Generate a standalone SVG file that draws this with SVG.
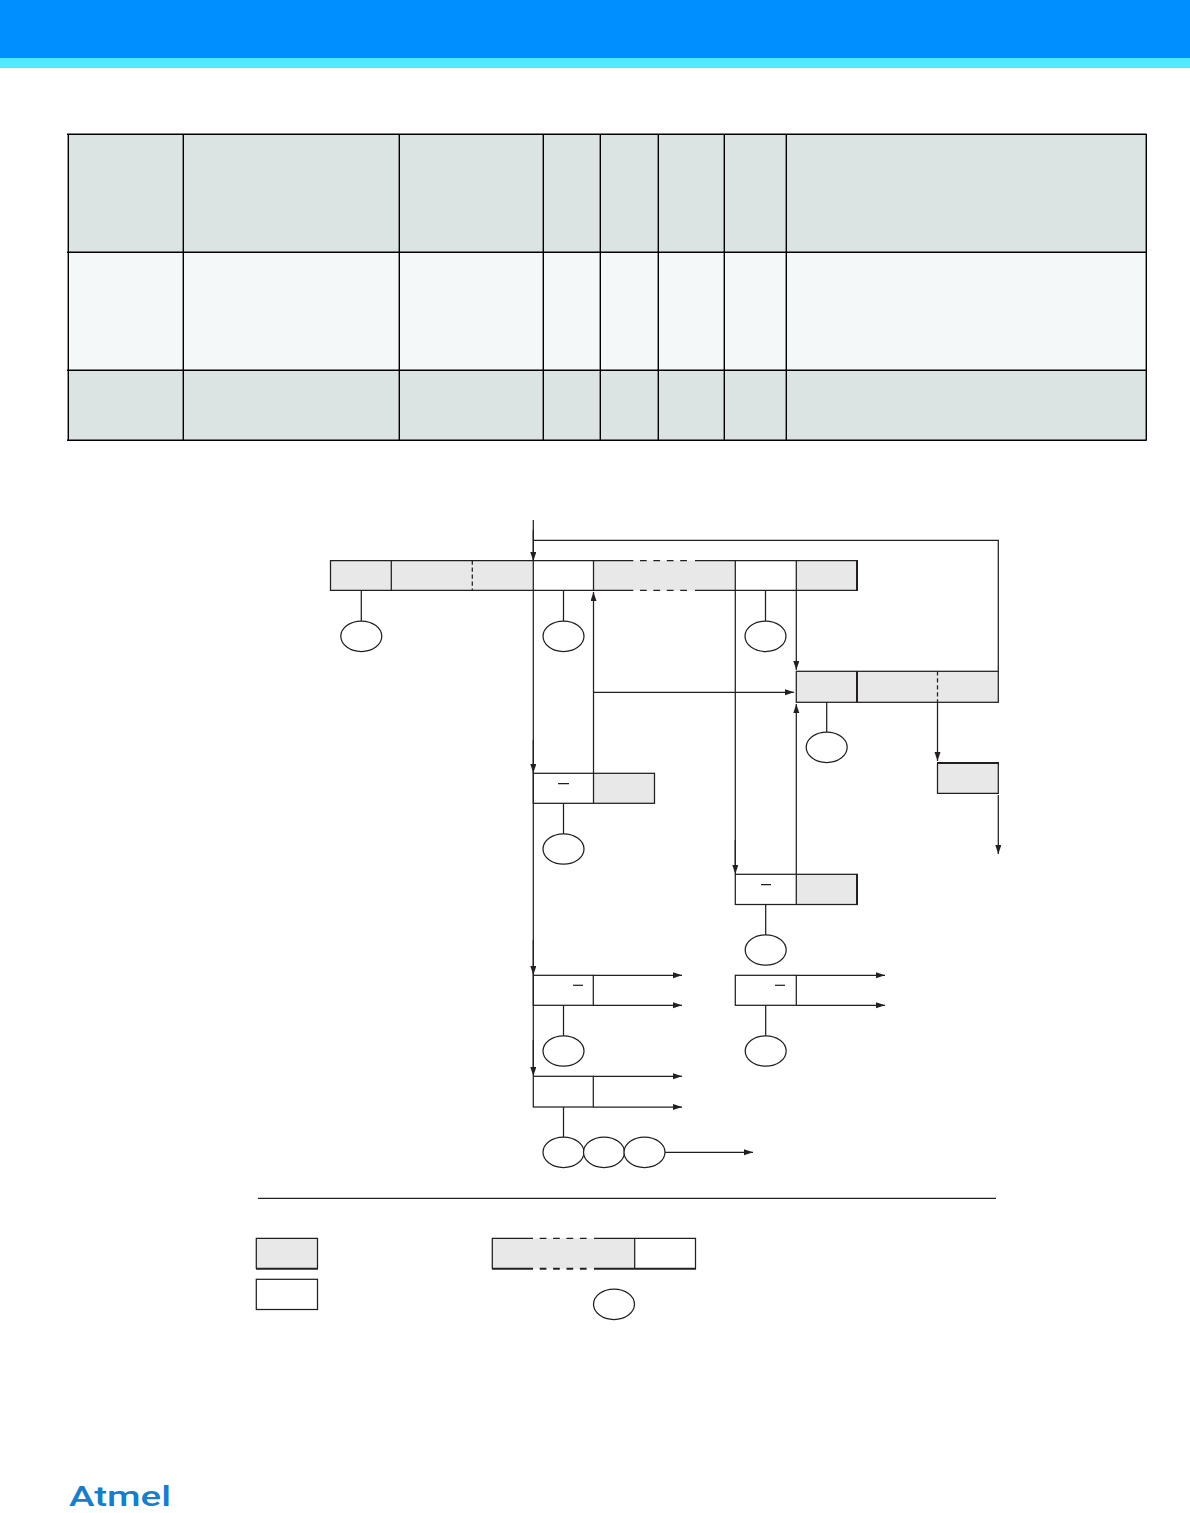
<svg xmlns="http://www.w3.org/2000/svg" width="1190" height="1513" viewBox="0 0 1190 1513">
<style>
.tl{stroke:#000;stroke-width:1.4;fill:none}
.g{fill:#e8e8e8;stroke:none}
.w{fill:#fff;stroke:none}
.s{stroke:#231f20;stroke-width:1.25;fill:none}
.t{stroke:#231f20;stroke-width:2;fill:none}
.d{stroke:#231f20;stroke-width:1.25;fill:none;stroke-dasharray:4.3 2.7}
.h{stroke:#231f20;stroke-width:1.25;fill:none;stroke-dasharray:6.7 6.7}
.ht{stroke:#231f20;stroke-width:2;fill:none;stroke-dasharray:6.7 6.7}
.e{fill:#fff;stroke:#231f20;stroke-width:1.25}
.a{stroke:#231f20;stroke-width:1.25;fill:none;marker-end:url(#arrow)}
</style>
<defs>
<marker id="arrow" markerUnits="userSpaceOnUse" markerWidth="10" markerHeight="7" refX="9" refY="3" orient="auto"><path d="M0 0L9 3L0 6z" fill="#231f20"/></marker>
</defs>
<rect width="1190" height="1513" fill="#fff"/>
<g id="header">
<rect x="0" y="0" width="1190" height="58" fill="#008fff"/>
<rect x="0" y="58" width="1190" height="10" fill="#50e9ff"/>
</g>
<g id="table">
<rect x="68" y="134" width="1078" height="118" fill="#dbe4e3"/>
<rect x="68" y="252" width="1078" height="118" fill="#f4f8f9"/>
<rect x="68" y="370" width="1078" height="70" fill="#dbe4e3"/>
<path class="tl" d="M67 134.3H1146.5M67 252.2H1146.5M67 370.3H1146.5M67 440.2H1146.5"/>
<path class="tl" d="M68.3 134V440.5M183.3 134V440.5M399.3 134V440.5M543.3 134V440.5M600.3 134V440.5M658.3 134V440.5M724.3 134V440.5M786.3 134V440.5M1146.3 134V440.5"/>
</g>
<g id="bar-top">
<rect class="g" x="330.5" y="560.5" width="203" height="30"/>
<rect class="w" x="533.3" y="560.5" width="60" height="30"/>
<rect class="g" x="593.5" y="560.5" width="142" height="30"/>
<rect class="w" x="735.3" y="560.5" width="61" height="30"/>
<rect class="g" x="796.3" y="560.5" width="61" height="30"/>
<path class="s" d="M533.3 560.5H330.5V590.4H533.3M391.3 560.5V590.4M593.5 560.5V590.4M533.3 560.5H633.3M533.3 590.4H633.3M695 560.5H857.3M695 590.4H857.3M735.3 560.5V590.4M796.3 560.5V590.4"/>
<path class="h" d="M640 560.5H687M640 590.4H687"/>
<path class="d" d="M472.3 560.5V590.4"/>
<path class="t" d="M857 560V591"/>
</g>
<g id="bar-right">
<rect class="g" x="796.3" y="671.3" width="202" height="31"/>
<rect class="s" x="796.3" y="671.3" width="202" height="31"/>
<path class="t" d="M857 671V702"/>
<path class="d" d="M937.5 671.3V702.3"/>
</g>
<g id="box-gray-right">
<rect class="g" x="937.5" y="763" width="60.8" height="30.3"/>
<path class="s" d="M937.5 763V793.3H998.3V763"/>
<path class="t" d="M937 763H999"/>
</g>
<g id="box-a">
<rect class="w" x="533.3" y="773.3" width="60" height="30"/>
<rect class="g" x="593.5" y="773.3" width="61" height="30"/>
<rect class="s" x="533.3" y="773.3" width="121.2" height="30"/>
<path class="s" d="M593.5 773.3V803.3M558 783.5H569"/>
</g>
<g id="box-b">
<rect class="g" x="796.3" y="874.3" width="61" height="30.2"/>
<rect class="s" x="735.3" y="874.3" width="122" height="30.2"/>
<path class="s" d="M796.3 874.3V904.5M761 884.5H771"/>
<path class="t" d="M857 874V905"/>
</g>
<g id="box-c">
<rect class="s" x="533.3" y="975.3" width="60" height="30"/>
<path class="s" d="M573 985.3H583"/>
</g>
<g id="box-d">
<rect class="s" x="735.3" y="975.3" width="61" height="30"/>
<path class="s" d="M775 985.3H785"/>
</g>
<g id="box-e">
<rect class="s" x="533.3" y="1076.3" width="60" height="30.7"/>
</g>
<g id="connectors">
<path class="s" d="M533.3 520V1068"/>
<path class="a" d="M533.3 530V561"/>
<path class="s" d="M533.3 540.3H998.3V671.3"/>
<path class="a" d="M533.3 740V773"/>
<path class="a" d="M533.3 940V975"/>
<path class="a" d="M533.3 1040V1076"/>
<path class="a" d="M593.5 773.3V592"/>
<path class="a" d="M593.5 692.3H794"/>
<path class="s" d="M735.3 590.4V866"/>
<path class="a" d="M735.3 840V874"/>
<path class="a" d="M796.3 590.4V670"/>
<path class="a" d="M796.3 874.3V704"/>
<path class="a" d="M937.5 702.3V761"/>
<path class="a" d="M998.3 795V854"/>
<path class="a" d="M593.3 975.3H682"/>
<path class="a" d="M593.3 1005.3H682"/>
<path class="a" d="M593.3 1076.3H682"/>
<path class="a" d="M593.3 1107H682"/>
<path class="a" d="M796.3 975.3H885"/>
<path class="a" d="M796.3 1005.3H885"/>
<path class="a" d="M665 1152.3H753"/>
<path class="s" d="M361.3 590.4V621M563.5 590.4V621M765.5 590.4V621M826.7 702.3V732M563.5 803.3V834M765.7 904.5V935M563.5 1005.3V1036M765.7 1005.3V1036M563.5 1107V1137"/>
</g>
<g id="circle-1"><ellipse class="e" cx="361.3" cy="636.3" rx="20.5" ry="15.2"/></g>
<g id="circle-2"><ellipse class="e" cx="563.5" cy="636.3" rx="20.5" ry="15.2"/></g>
<g id="circle-3"><ellipse class="e" cx="765.5" cy="636.3" rx="20.5" ry="15.2"/></g>
<g id="circle-4"><ellipse class="e" cx="826.7" cy="747.3" rx="20.5" ry="15.2"/></g>
<g id="circle-5"><ellipse class="e" cx="563.5" cy="849" rx="20.5" ry="15.2"/></g>
<g id="circle-6"><ellipse class="e" cx="765.7" cy="950" rx="20.5" ry="15.2"/></g>
<g id="circle-7"><ellipse class="e" cx="563.5" cy="1051" rx="20.5" ry="15.2"/></g>
<g id="circle-8"><ellipse class="e" cx="765.7" cy="1051" rx="20.5" ry="15.2"/></g>
<g id="circle-9"><ellipse class="e" cx="563.5" cy="1152.3" rx="20.5" ry="15.2"/></g>
<g id="circle-10"><ellipse class="e" cx="604" cy="1152.3" rx="20.5" ry="15.2"/></g>
<g id="circle-11"><ellipse class="e" cx="644.5" cy="1152.3" rx="20.5" ry="15.2"/></g>
<g id="legend">
<path class="s" d="M258 1198.3H996"/>
<g id="legend-gray">
<rect class="g" x="256.3" y="1238.3" width="61.2" height="30.5"/>
<path class="s" d="M256.3 1268.8V1238.3H317.5V1268.8"/>
<path class="t" d="M256 1268.8H318"/>
</g>
<g id="legend-white"><rect class="s" x="256.3" y="1279.3" width="61.2" height="30.2"/></g>
<g id="legend-bar">
<rect class="g" x="492.3" y="1238.3" width="142.4" height="30.5"/>
<path class="s" d="M533 1238.3H492.3V1268.8M594 1238.3H695.5V1268.8M634.7 1238.3V1268.8"/>
<path class="t" d="M492 1268.8H533M594 1268.8H696"/>
<path class="h" d="M539.7 1238.3H587"/>
<path class="ht" d="M539.7 1268.8H587"/>
</g>
<g id="legend-circle"><ellipse class="e" cx="614" cy="1304.3" rx="20.5" ry="15.2"/></g>
</g>
<g id="logo"><text x="69" y="1506" font-family="Roboto, 'Liberation Sans', sans-serif" font-size="28" font-weight="500" fill="#1b7cc8" textLength="102" lengthAdjust="spacingAndGlyphs">Atmel</text></g>
</svg>
